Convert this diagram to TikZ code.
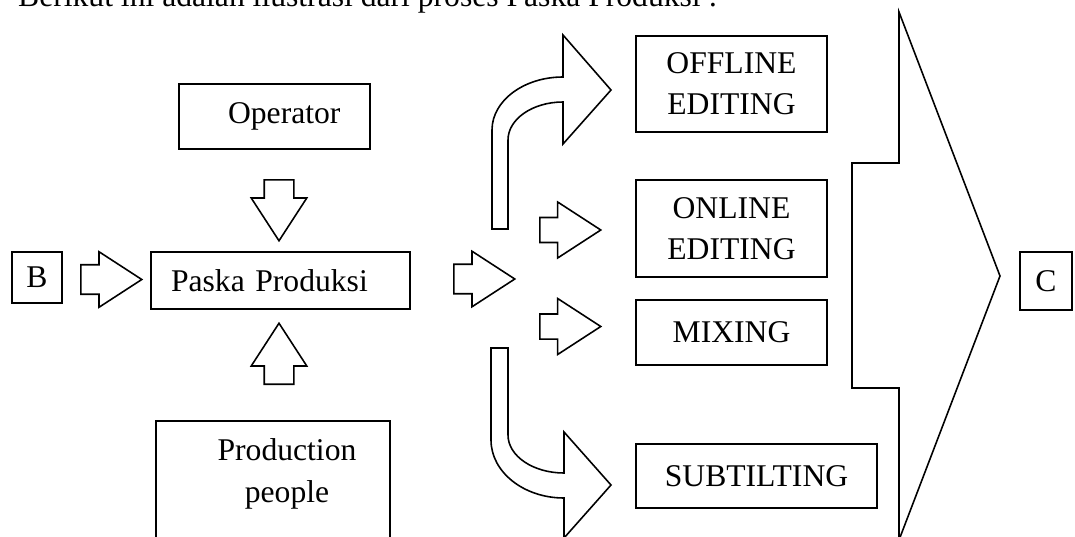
\documentclass[tikz,border=0pt]{standalone}
\usepackage{fontspec}
\setmainfont{Liberation Serif}
\usetikzlibrary{shapes.arrows}

\begin{document}
\begin{tikzpicture}[x=0.02cm, y=-0.02cm,
    every node/.style={font=\fontsize{18}{23.5}\selectfont},
    box/.style={draw, line width=1pt, inner sep=0pt, align=center},
    blockarrow/.style={draw, single arrow, line width=0.9pt, anchor=tail,
      inner xsep=0pt, inner ysep=0.28cm, minimum height=1.22cm,
      single arrow head extend=0.26cm, single arrow tip angle=66},
    outline/.style={line width=0.9pt, line join=miter}]

    \useasboundingbox (0,0) rectangle (1075,537);
    \clip (0,0) rectangle (1075,537);

    \node[anchor=base west] (intro) at (12,7)
      {Berikut ini adalah ilustrasi dari proses Paska Produksi :};

    % boxes
    \node[box, minimum width=1cm, minimum height=1.02cm] (B) at (37,277.5) {B};
    \node[box, minimum width=5.18cm, minimum height=1.14cm,
      text width=4.38cm, align=left] (paska) at (280.5,280.5) {Paska Produksi};
    \node[box, minimum width=3.82cm, minimum height=1.3cm,
      text width=2.64cm, align=right] (operator) at (274.5,116.5) {Operator};
    \node[box, minimum width=4.68cm, minimum height=2.8cm, anchor=north] (people) at (273,420) {};
    \node[align=center] (peopletxt) at (287,474) {Production\\people};
    \node[box, minimum width=3.82cm, minimum height=1.92cm] (offline) at (731.5,84) {OFFLINE\\EDITING};
    \node[box, minimum width=3.82cm, minimum height=1.94cm] (online) at (731.5,228.5) {ONLINE\\EDITING};
    \node[box, minimum width=3.82cm, minimum height=1.3cm] (mixing) at (731.5,332.5) {MIXING};
    \node[box, minimum width=4.82cm, minimum height=1.28cm] (subtitle) at (756.5,476) {SUBTILTING};
    \node[box, minimum width=1.04cm, minimum height=1.16cm] (C) at (1046,281) {C};

    % block arrows, placed by their tails
    \node[blockarrow] (arrB) at (80,279.5) {};
    \node[blockarrow, rotate=-90] (arrOperator) at (279,179) {};
    \node[blockarrow, rotate=90] (arrPeople) at (279,385) {};
    \node[blockarrow] (arrOut) at (453,279) {};
    \node[blockarrow, inner ysep=0.235cm, single arrow head extend=0.31cm] (arrOnline) at (539,230) {};
    \node[blockarrow, inner ysep=0.235cm, single arrow head extend=0.31cm] (arrMixing) at (539,326.5) {};

    % bent arrows
    \draw[outline] (492,229) -- (492,130)
      arc[start angle=180, end angle=270, x radius=71, y radius=53]
      -- (563,35) -- (611,90) -- (563,144) -- (563,102)
      arc[start angle=270, end angle=180, x radius=55, y radius=38]
      -- (508,229) -- cycle;
    \draw[outline] (491,348) -- (491,440)
      arc[start angle=180, end angle=90, x radius=73, y radius=58]
      -- (564,538) -- (611,485) -- (564,432) -- (564,473)
      arc[start angle=90, end angle=180, x radius=56, y radius=38]
      -- (508,348) -- cycle;

    % big arrow into C
    \draw[outline] (899,12) -- (1000,276) -- (899,540) -- (899,388)
      -- (852,388) -- (852,163) -- (899,163) -- cycle;
\end{tikzpicture}
\end{document}
